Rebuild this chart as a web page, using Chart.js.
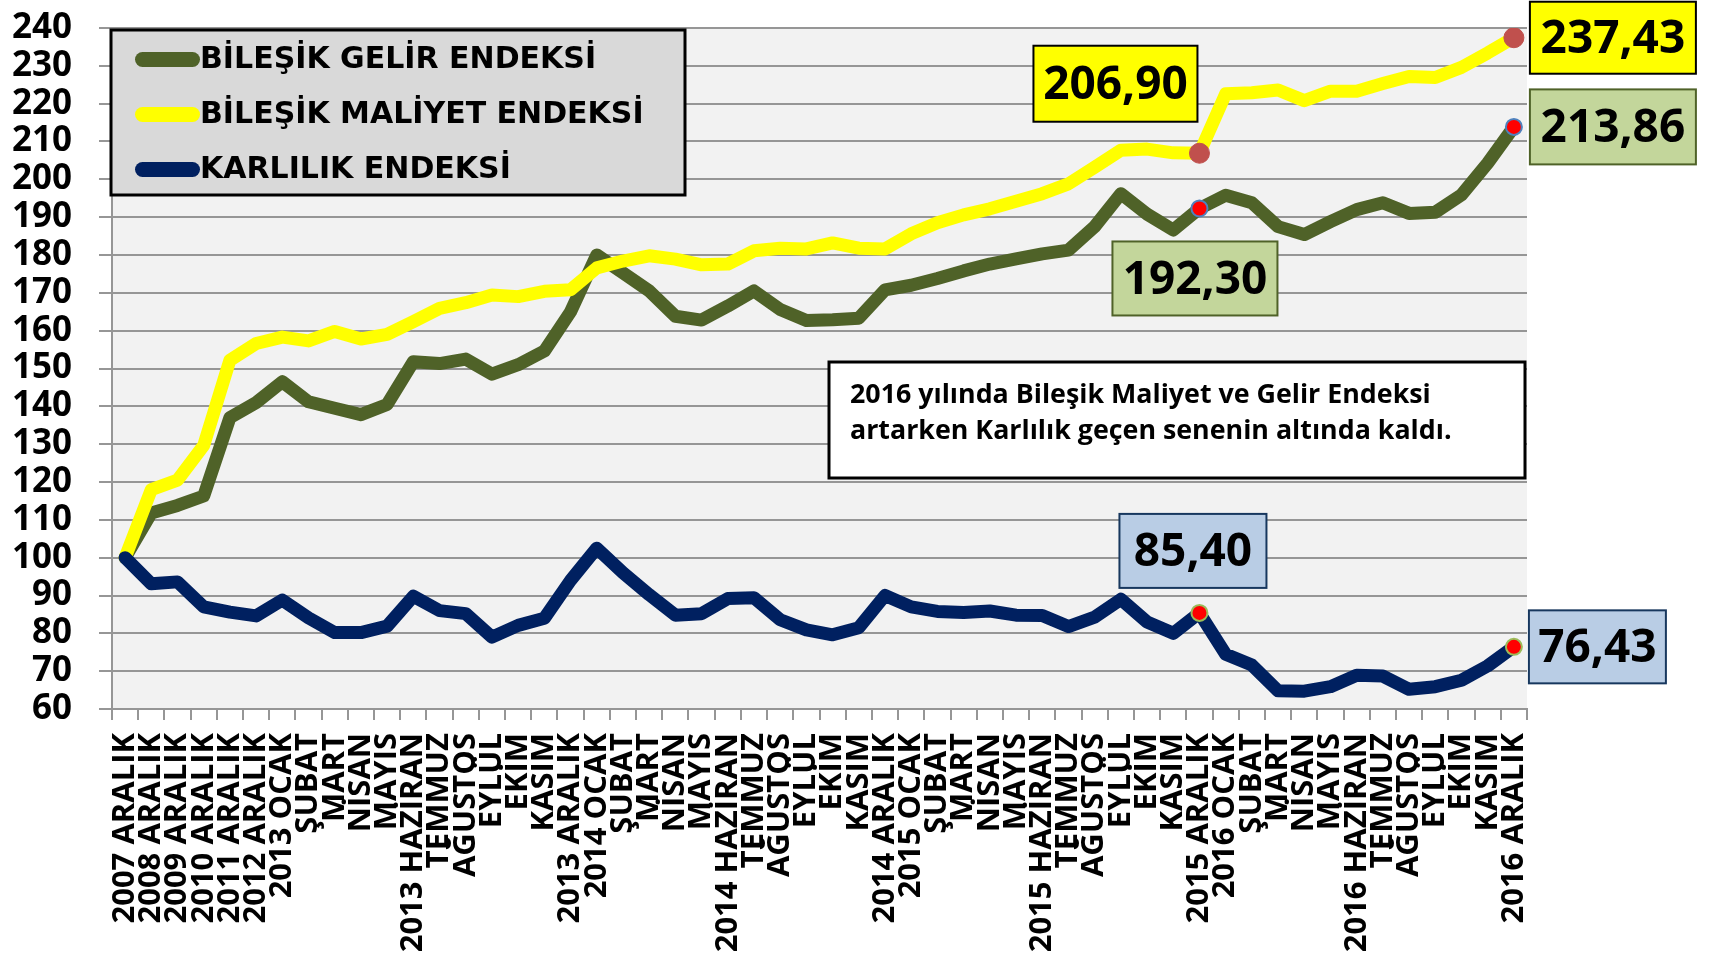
<!DOCTYPE html>
<html><head><meta charset="utf-8">
<script src="https://cdn.jsdelivr.net/npm/chart.js@4.4.1/dist/chart.umd.min.js"></script>
<style>html,body{margin:0;padding:0;background:#fff;overflow:hidden}</style>
</head><body>
<canvas id="c" width="1711" height="962"></canvas>
<script>
const labels = ['2007 ARALIK','2008 ARALIK','2009 ARALIK','2010 ARALIK','2011 ARALIK','2012 ARALIK',
 '2013 OCAK','ŞUBAT','MART','NİSAN','MAYIS','2013 HAZİRAN','TEMMUZ','AĞUSTOS','EYLÜL','EKİM','KASIM','2013 ARALIK',
 '2014 OCAK','ŞUBAT','MART','NİSAN','MAYIS','2014 HAZİRAN','TEMMUZ','AĞUSTOS','EYLÜL','EKİM','KASIM','2014 ARALIK',
 '2015 OCAK','ŞUBAT','MART','NİSAN','MAYIS','2015 HAZİRAN','TEMMUZ','AĞUSTOS','EYLÜL','EKİM','KASIM','2015 ARALIK',
 '2016 OCAK','ŞUBAT','MART','NİSAN','MAYIS','2016 HAZİRAN','TEMMUZ','AĞUSTOS','EYLÜL','EKİM','KASIM','2016 ARALIK'];

const gelir = [100, 111.8, 113.8, 116.3, 137.0, 141.0, 146.5, 141.2, 139.5, 137.8, 140.5, 151.8, 151.3, 152.5, 148.5, 151.0, 154.6, 165.0,
 180.0, 175.3, 170.5, 163.8, 162.8, 166.5, 170.5, 165.6, 162.7, 162.9, 163.3, 170.8,
 172.0, 173.8, 175.8, 177.6, 179.0, 180.3, 181.3, 187.5, 196.2, 190.8, 186.6, 192.30,
 195.8, 193.8, 187.5, 185.4, 188.8, 192.0, 193.8, 191.0, 191.3, 195.9, 204.3, 213.86];

const maliyet = [100, 118.0, 120.5, 129.7, 152.2, 156.6, 158.3, 157.3, 159.8, 157.8, 159.0, 162.4, 165.9, 167.4, 169.4, 169.0, 170.4, 170.8,
 176.6, 178.4, 179.8, 178.9, 177.4, 177.6, 181.1, 181.8, 181.6, 183.2, 181.8, 181.6,
 185.6, 188.5, 190.6, 192.2, 194.2, 196.2, 198.8, 203.2, 207.7, 208.0, 207.0, 206.90,
 222.6, 222.9, 223.6, 220.8, 223.3, 223.3, 225.3, 227.2, 226.9, 229.6, 233.4, 237.43];

const karlilik = [100, 93.1, 93.6, 87.0, 85.6, 84.6, 88.8, 84.1, 80.2, 80.2, 81.9, 89.8, 86.0, 85.2, 79.0, 82.1, 84.0, 94.0,
 102.5, 96.0, 90.2, 84.8, 85.2, 89.2, 89.4, 83.6, 80.9, 79.6, 81.5, 90.0,
 87.0, 85.8, 85.5, 85.9, 84.8, 84.7, 81.8, 84.3, 89.0, 83.0, 80.0, 85.40,
 74.5, 71.6, 64.8, 64.7, 65.9, 68.9, 68.7, 65.2, 65.9, 67.6, 71.4, 76.43];

const seriesNames = ['BİLEŞİK GELİR ENDEKSİ', 'BİLEŞİK MALİYET ENDEKSİ', 'KARLILIK ENDEKSİ'];
const yMin = 60, yMax = 240, yStep = 10;
const noteLines = ['2016 yılında Bileşik Maliyet ve Gelir Endeksi', 'artarken Karlılık geçen senenin altında kaldı.'];
const markedIdx = [41, 53];

const radii = r => labels.map((_, i) => markedIdx.includes(i) ? r : 0);
const fmt = v => v.toFixed(2).replace('.', ',');

const bgPlugin = {
  id: 'bg',
  beforeDraw(chart) {
    const c = chart.ctx, a = chart.chartArea;
    c.save();
    c.fillStyle = '#ffffff'; c.fillRect(0, 0, chart.width, chart.height);
    c.fillStyle = '#f2f2f2'; c.fillRect(a.left, a.top, a.right - a.left, a.bottom - a.top);
    c.restore();
  }
};

const overlayPlugin = {
  id: 'overlay',
  afterDatasetsDraw(chart) {
    const c = chart.ctx, a = chart.chartArea;
    c.save();
    // legend box
    const lx = a.left - 1, ly = 30, lw = 574, lh = 165;
    c.fillStyle = '#d9d9d9'; c.fillRect(lx, ly, lw, lh);
    c.lineWidth = 3; c.strokeStyle = '#000'; c.strokeRect(lx, ly, lw, lh);
    chart.data.datasets.forEach((ds, k) => {
      const cy = ly + 29.5 + k * 55;
      c.strokeStyle = ds.borderColor; c.lineWidth = 15; c.lineCap = 'round';
      c.beginPath(); c.moveTo(lx + 31.5, cy); c.lineTo(lx + 81.5, cy); c.stroke();
      c.fillStyle = '#000'; c.font = 'bold 30px "DejaVu Sans"';
      c.textAlign = 'left'; c.textBaseline = 'middle';
      c.fillText(ds.label, lx + 89, cy + 1);
    });
    // note box
    const nx = a.right - 698, ny = 362, nw = 696, nh = 116;
    c.fillStyle = '#fff'; c.fillRect(nx, ny, nw, nh);
    c.lineWidth = 3; c.strokeStyle = '#000'; c.strokeRect(nx, ny, nw, nh);
    c.fillStyle = '#000'; c.font = 'bold 26.8px "Open Sans"';
    c.textAlign = 'left'; c.textBaseline = 'alphabetic';
    c.fillText(noteLines[0], nx + 21, ny + 41);
    c.fillText(noteLines[1], nx + 21, ny + 77);
    // value boxes
    const boxes = [
      {ds: 1, i: 53, dx: 16, dy: -36, w: 166, h: 72, fill: '#ffff00', stroke: '#000000'},
      {ds: 0, i: 53, dx: 16, dy: -37.5, w: 166, h: 75, fill: '#c3d69b', stroke: '#4f6228'},
      {ds: 2, i: 53, dx: 15, dy: -36.5, w: 137, h: 73, fill: '#b9cde5', stroke: '#17375e'},
      {ds: 1, i: 41, dx: -166, dy: -107.5, w: 164, h: 76, fill: '#ffff00', stroke: '#000000'},
      {ds: 0, i: 41, dx: -87, dy: 33, w: 165, h: 74, fill: '#c3d69b', stroke: '#4f6228'},
      {ds: 2, i: 41, dx: -80, dy: -99, w: 147, h: 74, fill: '#b9cde5', stroke: '#17375e'}
    ];
    boxes.forEach(b => {
      const pt = chart.getDatasetMeta(b.ds).data[b.i];
      const x = pt.x + b.dx, y = pt.y + b.dy;
      c.fillStyle = b.fill; c.fillRect(x, y, b.w, b.h);
      c.lineWidth = 2; c.strokeStyle = b.stroke; c.strokeRect(x, y, b.w, b.h);
      c.fillStyle = '#000'; c.font = 'bold 46px "Open Sans"';
      c.textAlign = 'center'; c.textBaseline = 'middle';
      c.fillText(fmt(chart.data.datasets[b.ds].data[b.i]), x + b.w / 2, y + b.h / 2 + 2);
    });
    c.restore();
  }
};

new Chart(document.getElementById('c'), {
  type: 'line',
  data: {
    labels: labels,
    datasets: [
      {label: seriesNames[0], data: gelir, borderColor: '#4f6228', backgroundColor: '#4f6228', borderWidth: 13, order: 3,
       pointRadius: radii(8), pointBackgroundColor: '#ff0000', pointBorderColor: '#4f81bd', pointBorderWidth: 2},
      {label: seriesNames[1], data: maliyet, borderColor: '#ffff00', backgroundColor: '#ffff00', borderWidth: 13, order: 2,
       pointRadius: radii(10), pointBackgroundColor: '#c0504d', pointBorderColor: '#c0504d', pointBorderWidth: 1},
      {label: seriesNames[2], data: karlilik, borderColor: '#002060', backgroundColor: '#002060', borderWidth: 13, order: 1,
       pointRadius: radii(8), pointBackgroundColor: '#ff0000', pointBorderColor: '#9bbb59', pointBorderWidth: 2}
    ]
  },
  options: {
    responsive: false, animation: false, devicePixelRatio: 1,
    events: [],
    layout: {padding: {left: 10, right: 184, top: 28, bottom: 0}},
    plugins: {legend: {display: false}, tooltip: {enabled: false}},
    elements: {line: {tension: 0, borderJoinStyle: 'round', borderCapStyle: 'round', fill: false},
               point: {hoverRadius: 0}},
    scales: {
      x: {
        type: 'category', offset: true,
        grid: {offset: true, drawOnChartArea: false, drawTicks: true, tickLength: 11, color: '#969696', lineWidth: 2},
        border: {display: true, color: '#969696', width: 2},
        ticks: {autoSkip: false, maxRotation: 90, minRotation: 90, padding: 13, color: '#000',
                font: {family: '"Open Sans"', weight: 'bold', size: 31}},
        afterFit(s) { s.height = 253; s.paddingLeft = 0; s.paddingRight = 0; }
      },
      y: {
        min: yMin, max: yMax,
        ticks: {stepSize: yStep, autoSkip: false, padding: 27, color: '#000',
                font: {family: '"Open Sans"', weight: 'bold', size: 35, lineHeight: 1}},
        grid: {color: '#969696', lineWidth: 2, tickLength: 13, drawTicks: true},
        border: {display: true, color: '#969696', width: 2},
        afterFit(s) { s.width = 102; s.paddingTop = 0; s.paddingBottom = 0; }
      }
    }
  },
  plugins: [bgPlugin, overlayPlugin]
});
</script>
</body></html>
